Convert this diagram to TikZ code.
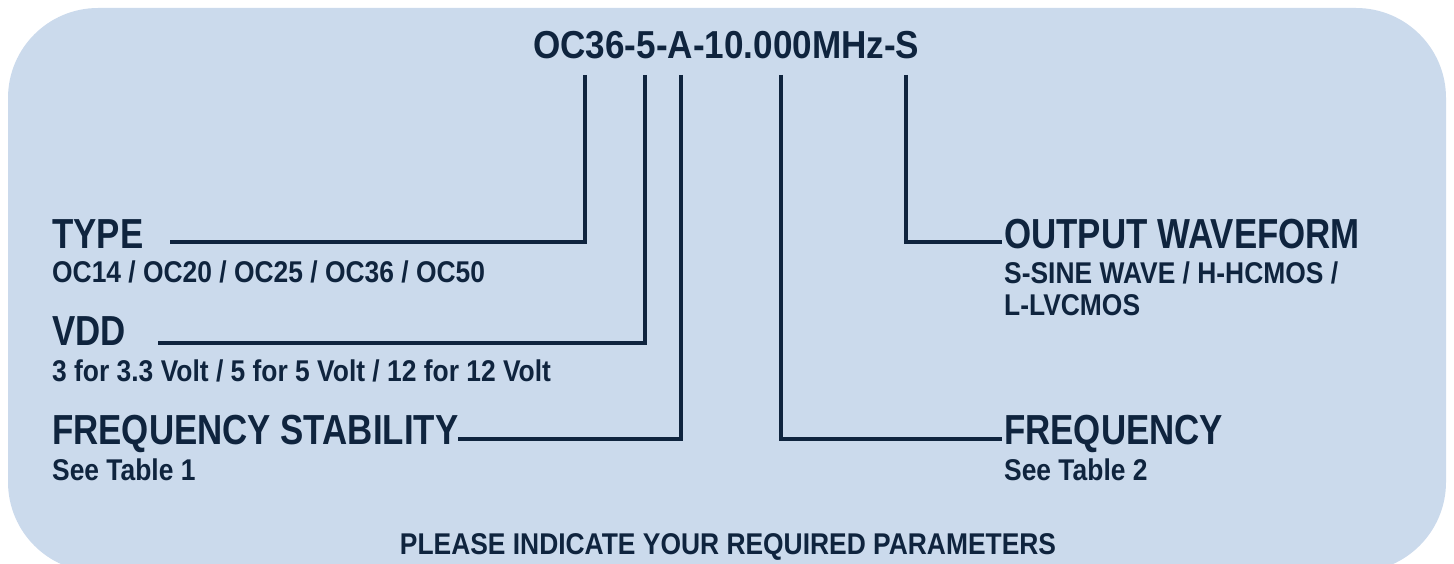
\documentclass[tikz,border=0pt]{standalone}
\usepackage{fontspec}
\setmainfont{Liberation Sans}
\newfontfamily\titlefont{Liberation Sans}[FakeStretch=0.9]
\newfontfamily\headfont{Liberation Sans}[FakeStretch=0.83]
\newfontfamily\subfont{Liberation Sans}[FakeStretch=0.88]
\definecolor{bgblue}{HTML}{CBDAEC}
\definecolor{ink}{HTML}{0F243E}
\begin{document}
\begin{tikzpicture}[x=1pt,y=-1pt,
  titlestyle/.style={inner sep=0pt,anchor=base west,text=ink,font=\titlefont\fontsize{39}{42}\selectfont\bfseries},
  big/.style={inner sep=0pt,anchor=base west,text=ink,font=\headfont\fontsize{42}{44}\selectfont\bfseries},
  small/.style={inner sep=0pt,anchor=base west,text=ink,font=\subfont\fontsize{30}{32}\selectfont\bfseries,align=left},
  conn/.style={draw=ink,line width=4pt}]
\useasboundingbox (0,0) rectangle (1454,564);
\clip (0,0) rectangle (1454,564);
\fill[bgblue,rounded corners=90pt] (8,8) rectangle (1446,572);
% title
\node[titlestyle] (title) at (533,59) {OC36-5-A-10.000MHz-S};
% left labels
\node[big] (type) at (52,248) {TYPE};
\node[small] (typesub) at (52,283) {OC14 / OC20 / OC25 / OC36 / OC50};
\node[big] (vdd) at (52,345) {VDD};
\node[small] (vddsub) at (52,381) {3 for 3.3 Volt / 5 for 5 Volt / 12 for 12 Volt};
\node[big] (fs) at (52,444) {FREQUENCY STABILITY};
\node[small] (fssub) at (52,480) {See Table 1};
% right labels
\node[big] (ow) at (1004,248) {OUTPUT WAVEFORM};
\node[small,anchor=north west] (owsub) at (1004,261.5) {S-SINE WAVE / H-HCMOS /\\L-LVCMOS};
\node[big] (freq) at (1004,444) {FREQUENCY};
\node[small] (freqsub) at (1004,480) {See Table 2};
% bottom
\node[small,anchor=base] (note) at (728,554) {PLEASE INDICATE YOUR REQUIRED PARAMETERS};
% tap points
\coordinate (t1) at (585,75);
\coordinate (t2) at (645,75);
\coordinate (t3) at (681,75);
\coordinate (t4) at (781,75);
\coordinate (t5) at (906,75);
% line ends
\coordinate (e1) at (170,242);
\coordinate (e2) at (158,343);
\coordinate (e3) at (458,439);
\coordinate (e4) at (1002,439);
\coordinate (e5) at (1002,242);
\draw[conn] (t1) |- (e1);
\draw[conn] (t2) |- (e2);
\draw[conn] (t3) |- (e3);
\draw[conn] (t4) |- (e4);
\draw[conn] (t5) |- (e5);
\end{tikzpicture}
\end{document}
